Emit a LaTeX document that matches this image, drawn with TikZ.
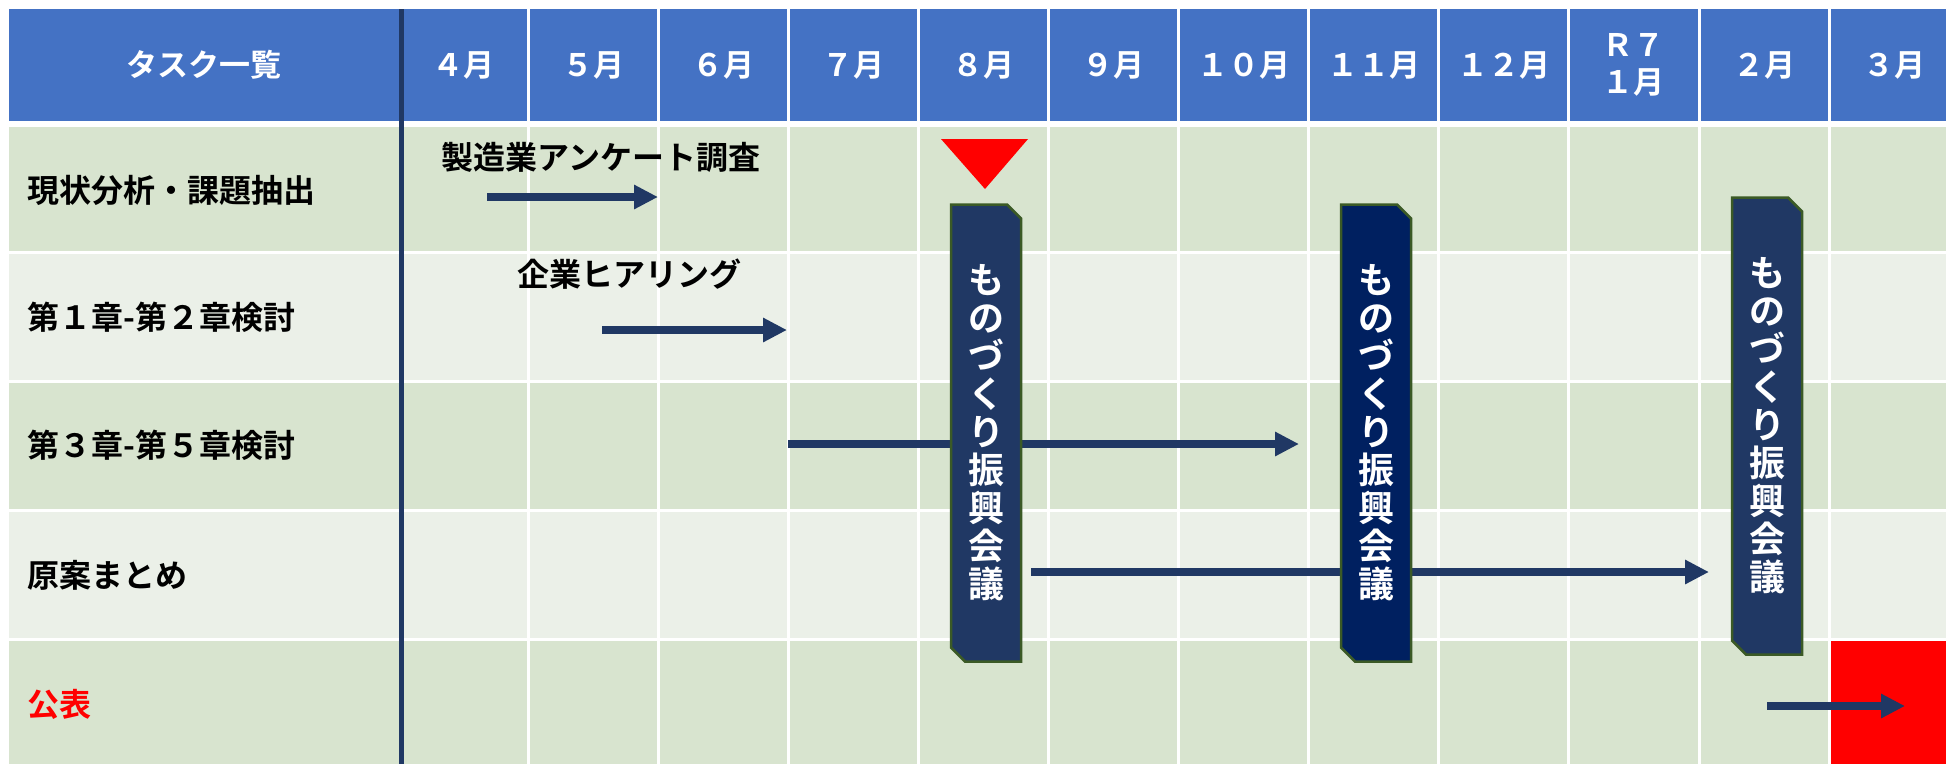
\documentclass[tikz,border=0pt]{standalone}
\usepackage{fontspec}
\setmainfont{Noto Sans CJK JP}[BoldFont=* Bold]
\usepackage{xcolor}
\usepackage{tikz}
\usetikzlibrary{arrows.meta,shapes.misc,positioning}
\definecolor{HeadBlue}{HTML}{4472C4}
\definecolor{RowDark}{HTML}{D8E4CF}
\definecolor{RowLight}{HTML}{EBF0E8}
\definecolor{BarNavy}{HTML}{203864}
\definecolor{MeetNavy}{HTML}{203864}
\definecolor{MeetDeep}{HTML}{002060}
\definecolor{MeetEdge}{HTML}{3B5A26}
\definecolor{AlertRed}{HTML}{FF0000}
\tikzset{
  GridLine/.style={draw=white, line width=3pt},
  HeadLabel/.style={text=white, align=center, inner sep=0pt,
    font=\fontsize{31}{37}\selectfont\bfseries},
  TaskLabel/.style={anchor=west, inner sep=0pt,
    font=\fontsize{32}{37}\selectfont\bfseries},
  BarNote/.style={inner sep=0pt, font=\fontsize{32}{37}\selectfont\bfseries},
  PlanArrow/.style={draw=BarNavy, line width=8.5pt,
    -{Triangle[length=24pt,width=23pt]}},
  MeetBox/.style={
    chamfered rectangle,
    chamfered rectangle corners={north east,south west},
    chamfered rectangle sep=7pt,
    minimum width=70pt, minimum height=457pt, inner sep=0pt,
    draw=MeetEdge, line width=2.5pt, fill=MeetNavy, text=white,
    align=center, font=\fontsize{36}{38}\selectfont\bfseries
  }
}
\newcommand{\MeetText}{も\\の\\づ\\く\\り\\振\\興\\会\\議}

\begin{document}
\begin{tikzpicture}[x=1pt, y=-1pt]
  \useasboundingbox (0,0) rectangle (1946,764);

  % header band and row stripes
  \fill[HeadBlue] (9,9) rectangle (1946,121);
  \foreach \ya/\yb/\c in {127/252.5/RowDark, 252.5/381.5/RowLight,
      381.5/510.5/RowDark, 510.5/639.5/RowLight, 639.5/764/RowDark}
    \fill[\c] (9,\ya) rectangle (1946,\yb);

  % cell borders
  \foreach \k in {1,...,11}
    \draw[GridLine] ({398+130.1*\k},9) -- ({398+130.1*\k},764);
  \foreach \y in {252.5,381.5,510.5,639.5}
    \draw[GridLine] (9,\y) -- (1946,\y);

  % publication cell
  \fill[AlertRed] (1831,641) rectangle (1946,764);

  % task column divider
  \draw[BarNavy, line width=5pt] (401,9) -- (401,764);

  % header texts
  \node[HeadLabel] (head) at (204,65) {タスク一覧};
  \foreach \m [count=\i from 0] in {４月,５月,６月,７月,８月,９月,１０月,
      １１月,１２月,{Ｒ７\\１月},２月,３月}
    \node[HeadLabel] (m\i) at ({398+130.1*(\i+0.5)},65) {\m};

  % task names
  \node[TaskLabel] (t1) at (27,190) {現状分析・課題抽出};
  \node[TaskLabel] (t2) at (27,317) {第１章-第２章検討};
  \node[TaskLabel] (t3) at (27,445) {第３章-第５章検討};
  \node[TaskLabel] (t4) at (27,575) {原案まとめ};
  \node[TaskLabel, text=AlertRed] (t5) at (27,704) {公表};

  % bar notes
  \node[BarNote] (survey) at (601,157) {製造業アンケート調査};
  \node[BarNote] (hearing) at (629,274) {企業ヒアリング};

  % schedule arrows
  \coordinate (a1s) at (487,197);  \coordinate (a1e) at (658,197);
  \coordinate (a2s) at (602,330);  \coordinate (a2e) at (787,330);
  \coordinate (a3s) at (788,444);  \coordinate (a3e) at (1299,444);
  \coordinate (a4s) at (1031,572); \coordinate (a4e) at (1709,572);
  \coordinate (a5s) at (1767,706); \coordinate (a5e) at (1905,706);
  \foreach \a in {1,...,4}
    \draw[PlanArrow] (a\a s) -- (a\a e);

  % council meetings
  \node[MeetBox] (meet1) at (986,433) {\MeetText};
  \node[MeetBox, fill=MeetDeep] (meet2) at (1376,433) {\MeetText};
  \node[MeetBox] (meet3) at (1767,426) {\MeetText};

  % marker above the first meeting
  \coordinate (tri1) at (941,139);
  \coordinate (tri2) at (1028,139);
  \coordinate (tri3) at (985,189);
  \fill[AlertRed] (tri1) -- (tri2) -- (tri3) -- cycle;

  \draw[PlanArrow] (a5s) -- (a5e);
\end{tikzpicture}
\end{document}
